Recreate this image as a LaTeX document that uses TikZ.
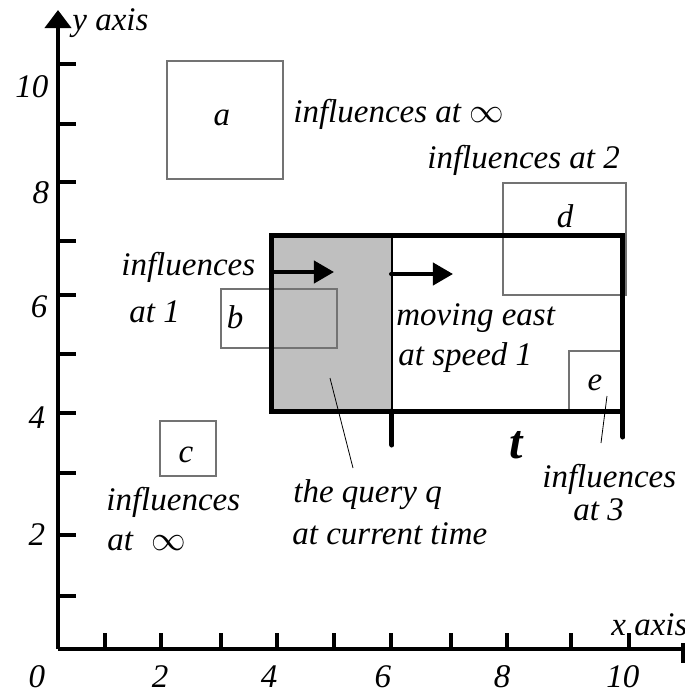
\documentclass[tikz,border=0pt]{standalone}
\usepackage{fontspec}
\setmainfont{Liberation Serif}[ItalicFont={Liberation Serif Italic},BoldItalicFont={Liberation Serif Bold Italic}]
\usetikzlibrary{arrows.meta}
\begin{document}
\begin{tikzpicture}[x=0.5pt,y=-0.5pt,
  lbl/.style={inner sep=0pt, font=\fontsize{16.5}{18}\selectfont\itshape},
  axisline/.style={line width=2pt},
  tickmark/.style={line width=2pt},
  objbox/.style={draw=black!55, line width=0.65pt},
  pathbox/.style={line width=2.5pt},
  pointer/.style={line width=0.4pt},
  movearrow/.style={line width=2pt, line cap=round, -{Triangle[length=10pt,width=11pt]}}
]
\useasboundingbox (0,0) rectangle (685,693);

% axes
\coordinate (O) at (58,649);
\coordinate (ytip) at (58,10);
\coordinate (xend) at (683,649);
\draw[axisline, -{Triangle[length=9pt,width=13pt]}] (O) -- (ytip);
\draw[axisline] (O) -- (xend);
\draw[tickmark] (683,643) -- (683,663);
\foreach \yy in {64,124,182,241,295,354,413,473,535,596}
  \draw[tickmark] (58,\yy) -- (76,\yy);
\foreach \xx in {105,161,221,277,334,391,451,507,571,629}
  \draw[tickmark] (\xx,649) -- (\xx,633);

\node[lbl, anchor=base west] (ylab) at (72,30) {y axis};
\node[lbl, anchor=base west] (xlab) at (611,635) {x axis};

\node[lbl, anchor=base] (y10) at (32,97) {10};
\node[lbl, anchor=base] (y8) at (41,203) {8};
\node[lbl, anchor=base] (y6) at (39,317) {6};
\node[lbl, anchor=base] (y4) at (37,428) {4};
\node[lbl, anchor=base] (y2) at (37,545) {2};

\node[lbl, anchor=base] (x0) at (37,687) {0};
\node[lbl, anchor=base] (x2) at (160,687) {2};
\node[lbl, anchor=base] (x4) at (269,687) {4};
\node[lbl, anchor=base] (x6) at (383,687) {6};
\node[lbl, anchor=base] (x8) at (502,687) {8};
\node[lbl, anchor=base] (x10) at (623,687) {10};

% query region
\fill[black!25] (272,235) rectangle (392,411);
\draw[line width=0.6pt] (392,235) -- (392,411);

% objects
\draw[objbox] (167,61) rectangle (283,179);
\draw[objbox] (221,289) rectangle (337,348);
\draw[objbox] (160,421) rectangle (216,476);
\draw[objbox] (503,183) rectangle (626,295);
\draw[objbox] (569,351) rectangle (623,411);

% swept path
\draw[pathbox] (272,235) rectangle (623,411);
\draw[pathbox, line cap=round] (392,411) -- (392,445);
\draw[pathbox, line cap=round] (623,411) -- (623,437);

\node[lbl, anchor=base] (a) at (222,125) {a};
\node[lbl, anchor=base] (b) at (235,328) {b};
\node[lbl, anchor=base] (c) at (186,462) {c};
\node[lbl, anchor=base] (d) at (565,227) {d};
\node[lbl, anchor=base] (e) at (595,390) {e};

\node[inner sep=0pt, anchor=base, font=\fontsize{24}{26}\selectfont\bfseries\itshape] (t) at (516,458) {t};

% moving arrows
\coordinate (a1s) at (272,272);
\coordinate (a1e) at (334,272);
\coordinate (a2s) at (391,274);
\coordinate (a2e) at (453,274);
\draw[movearrow] (a1s) -- (a1e);
\draw[movearrow] (a2s) -- (a2e);

% texts
\node[lbl, anchor=base west] (infA) at (293,122) {influences at $\infty$};
\node[lbl, anchor=base west] (inf2) at (427,168) {influences at 2};
\node[lbl, anchor=base west] (inf1a) at (121,275) {influences};
\node[lbl, anchor=base west] (inf1b) at (129,322) {at 1};
\node[lbl, anchor=base west] (mov1) at (396,325) {moving east};
\node[lbl, anchor=base west] (mov2) at (398,365) {at speed 1};
\node[lbl, anchor=base west] (q1) at (293,502) {the query q};
\node[lbl, anchor=base west] (q2) at (292,544) {at current time};
\node[lbl, anchor=base west] (inf3a) at (542,487) {influences};
\node[lbl, anchor=base west] (inf3b) at (573,520) {at 3};
\node[lbl, anchor=base west] (infCa) at (106,510) {influences};
\node[lbl, anchor=base west] (infCb) at (107,550) {at\hspace{9pt}$\infty$};

% pointers
\coordinate (qp) at (330,378);
\coordinate (qpe) at (353,468);
\draw[pointer] (qp) -- (qpe);
\coordinate (ep) at (607,396);
\coordinate (epe) at (601,443);
\draw[pointer] (ep) -- (epe);
\end{tikzpicture}
\end{document}
